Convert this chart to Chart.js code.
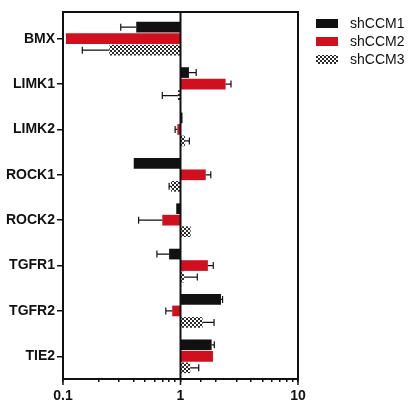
<!DOCTYPE html>
<html>
<head>
<meta charset="utf-8">
<script src="https://cdn.jsdelivr.net/npm/chart.js@4.4.1/dist/chart.umd.min.js"></script>
<style>
  html, body { margin: 0; padding: 0; background: #fff; }
  #wrap { width: 414px; height: 418px; position: relative; }
</style>
</head>
<body>
<div id="wrap"><canvas id="chart"></canvas></div>
<script>
// ── data (fold change, bars start at 1) ─────────────
const genes = ["BMX", "LIMK1", "LIMK2", "ROCK1", "ROCK2", "TGFR1", "TGFR2", "TIE2"];
const seriesNames = ["shCCM1", "shCCM2", "shCCM3"];

const ccm1 = [0.42, 1.18, 1.04, 0.40, 0.92, 0.80, 2.21, 1.84];
const ccm2 = [0.106, 2.42, 0.94, 1.64, 0.70, 1.71, 0.85, 1.89];
const ccm3 = [0.248, 0.95, 1.09, 0.83, 1.22, 1.07, 1.54, 1.21];

// error bar end values (one-sided, away from 1)
const ccm1Err = [0.31, 1.36, 1.04, 0.40, 0.92, 0.63, 2.28, 1.94];
const ccm2Err = [0.106, 2.69, 0.90, 1.81, 0.44, 1.90, 0.75, 1.89];
const ccm3Err = [0.146, 0.70, 1.19, 0.80, 1.22, 1.39, 1.93, 1.43];

const xTickLabels = [0.1, 1, 10];

const FONT = "Arial, 'Liberation Sans', sans-serif";
const FRAME_TOP = 12;

// ── checker pattern for shCCM3 ──────────────────────
function checker() {
  const c = document.createElement("canvas");
  c.width = 4; c.height = 4;
  const g = c.getContext("2d");
  g.fillStyle = "#ffffff"; g.fillRect(0, 0, 4, 4);
  g.fillStyle = "#2a2a2a";
  g.fillRect(0, 0, 2, 2); g.fillRect(2, 2, 2, 2);
  return g.createPattern(c, "repeat");
}

// ── frame, line at 1, error bars, legend ────────────
const decor = {
  id: "decor",
  afterDatasetsDraw(chart) {
    const { ctx, chartArea: a, scales: { x } } = chart;
    ctx.save();
    ctx.strokeStyle = "#111";
    // error bars
    ctx.lineWidth = 1.2;
    chart.data.datasets.forEach((ds, di) => {
      const meta = chart.getDatasetMeta(di);
      meta.data.forEach((bar, i) => {
        const end = ds.errEnd[i];
        const v = ds.data[i][1];
        if (Math.abs(Math.log10(end) - Math.log10(v)) < 0.005) return;
        const x0 = x.getPixelForValue(v);
        const x1 = x.getPixelForValue(end);
        const y = bar.y;
        ctx.beginPath();
        ctx.moveTo(x0, y); ctx.lineTo(x1, y);
        ctx.moveTo(x1, y - 3.5); ctx.lineTo(x1, y + 3.5);
        ctx.stroke();
      });
    });
    // vertical line at 1
    ctx.lineWidth = 2;
    const x1 = x.getPixelForValue(1);
    ctx.beginPath();
    ctx.moveTo(x1, FRAME_TOP); ctx.lineTo(x1, a.bottom);
    ctx.stroke();
    // box
    ctx.strokeRect(a.left, FRAME_TOP, a.right - a.left, a.bottom - FRAME_TOP);
    // longer major ticks
    ctx.lineWidth = 1.5;
    xTickLabels.forEach(v => {
      const px = x.getPixelForValue(v);
      ctx.beginPath();
      ctx.moveTo(px, a.bottom); ctx.lineTo(px, a.bottom + 6);
      ctx.stroke();
    });
    // legend
    ctx.font = `14px ${FONT}`;
    ctx.textBaseline = "middle";
    chart.data.datasets.forEach((ds, k) => {
      const top = 19 + k * 18;
      ctx.fillStyle = ds.backgroundColor;
      ctx.fillRect(316, top, 22, 9);
      ctx.fillStyle = "#111";
      ctx.fillText(ds.label, 350, top + 5);
    });
    ctx.restore();
  },
};

const colors = ["#111111", "#d0101f", checker()];
const values = [ccm1, ccm2, ccm3];
const errs = [ccm1Err, ccm2Err, ccm3Err];

new Chart(document.getElementById("chart"), {
  type: "bar",
  data: {
    labels: genes,
    datasets: seriesNames.map((name, k) => ({
      label: name,
      data: values[k].map(v => [1, v]),
      errEnd: errs[k],
      backgroundColor: colors[k],
      borderWidth: 0,
      categoryPercentage: 0.76,
      barPercentage: 0.93,
    })),
  },
  options: {
    indexAxis: "y",
    responsive: true,
    maintainAspectRatio: false,
    animation: false,
    layout: { padding: { top: 16, bottom: 10, left: 0, right: 116 } },
    plugins: {
      legend: { display: false },
      tooltip: { enabled: false },
    },
    scales: {
      x: {
        type: "logarithmic",
        min: 0.1,
        max: 10,
        afterFit(s) { s.height = 29; },
        grid: { drawOnChartArea: false, drawTicks: true, tickLength: 3, color: "#111", lineWidth: 1.5 },
        border: { display: true, color: "#111", width: 2 },
        ticks: {
          color: "#111",
          padding: 6,
          maxRotation: 0,
          autoSkip: false,
          font: { family: FONT, size: 14, weight: "bold" },
          callback(v) {
            return xTickLabels.includes(v) ? String(v) : "";
          },
        },
      },
      y: {
        afterFit(s) { s.width = 63; },
        grid: { offset: false, drawOnChartArea: false, drawTicks: true, tickLength: 6, color: "#111", lineWidth: 1.5 },
        border: { display: true, color: "#111", width: 2 },
        ticks: {
          color: "#111",
          padding: 2,
          font: { family: FONT, size: 14, weight: "bold" },
        },
      },
    },
  },
  plugins: [decor],
});
</script>
</body>
</html>
